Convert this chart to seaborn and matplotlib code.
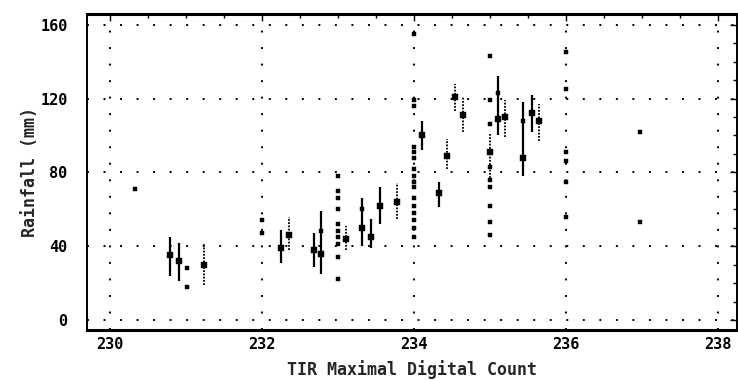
import matplotlib
matplotlib.use("Agg")
import matplotlib.pyplot as plt
import seaborn as sns
import pandas as pd
from matplotlib.ticker import MultipleLocator

# ---- data ----
# points with error bars: count, mean rainfall, lower, upper
bar_x    = [230.79, 230.91, 231.24, 232.25, 232.36, 232.69, 232.78, 233.11, 233.32, 233.43,
            233.55, 233.78, 234.10, 234.33, 234.43, 234.54, 234.65, 235.00, 235.10, 235.20,
            235.43, 235.55, 235.65]
bar_y    = [35, 32, 30, 39, 46, 38, 36, 44, 50, 45,
            62, 64, 100, 69, 89, 121, 111, 91, 109, 110,
            88, 112, 108]
bar_lo   = [24, 21, 19, 31, 38, 29, 25, 38, 40, 39,
            52, 55, 92, 61, 82, 113, 102, 77, 100, 99,
            78, 102, 97]
bar_hi   = [45, 42, 41, 49, 56, 47, 59, 51, 66, 55,
            72, 74, 108, 75, 98, 128, 121, 101, 132, 119,
            118, 122, 117]
bar_dotted = [False, False, True, False, True, False, False, True, False, False,
              False, True, False, False, True, True, True, True, False, True,
              False, False, True]

# individual observations
pt_x = ([231.02] * 2 + [232.00] * 2 + [232.78] + [233.00] * 10 + [233.32] +
        [234.00] * 16 + [235.00] * 9 + [235.10] + [235.43] + [236.00] * 6 +
        [236.98] * 2 + [230.33])
pt_y = ([28, 18] + [54, 47] + [48] + [78, 70, 66, 60, 52, 48, 45, 41, 34, 22] + [60] +
        [155, 119, 116, 94, 91, 88, 82, 78, 75, 72, 66, 62, 58, 54, 50, 45] +
        [143, 119, 106, 83, 76, 72, 62, 53, 46] + [123] + [108] +
        [145, 125, 91, 86, 75, 56] + [102, 53] + [71])

x_ticks = [230, 232, 234, 236, 238]
x_tick_labels = ["230", "232", "234", "236", "238"]
y_ticks = [0, 40, 80, 120, 160]
y_tick_labels = ["0", "40", "80", "120", "160"]

sns.set_theme(style="white")
plt.rcParams['font.family'] = ['DejaVu Sans Mono', 'DejaVu Sans']
plt.rcParams['font.weight'] = 'bold'

fig = plt.figure(figsize=(7.38, 3.80), dpi=100)
ax = fig.add_axes([87 / 738, 1 - 330 / 380, (737 - 87) / 738, (330 - 14) / 380])

ax.set_xlim(229.70, 238.25)
ax.set_ylim(-5.4, 165.8)

# dotted grid
for xv in x_ticks:
    ax.axvline(xv, color="black", lw=1.4, dashes=(1, 7.5), zorder=1)
for yv in y_ticks:
    ax.axhline(yv, color="black", lw=1.4, dashes=(1, 7.5), zorder=1)

bars = pd.DataFrame({"x": bar_x, "y": bar_y, "lo": bar_lo, "hi": bar_hi, "dotted": bar_dotted})
solid = bars[~bars["dotted"]]
dott = bars[bars["dotted"]]
ax.vlines(solid["x"], solid["lo"], solid["hi"], color="black", lw=1.6, zorder=3)
ax.vlines(dott["x"], dott["lo"], dott["hi"], color="black", lw=1.3,
          linestyles=[(0, (1, 0.8))], zorder=3)

sns.scatterplot(data=bars, x="x", y="y", ax=ax, marker="s", s=13,
                color="black", edgecolor="black", linewidth=0.3, zorder=4, legend=False)

pts = pd.DataFrame({"x": pt_x, "y": pt_y})
sns.scatterplot(data=pts, x="x", y="y", ax=ax, marker="s", s=10,
                color="black", edgecolor="black", linewidth=0.3, zorder=4, legend=False)

ax.set_xticks(x_ticks)
ax.set_xticklabels(x_tick_labels)
ax.set_yticks(y_ticks)
ax.set_yticklabels(y_tick_labels)
ax.xaxis.set_minor_locator(MultipleLocator(0.5))
ax.yaxis.set_minor_locator(MultipleLocator(10))
ax.tick_params(axis="both", which="both", direction="in", top=True, right=True,
               colors="black", labelsize=11, width=1.0)
ax.tick_params(axis="both", which="major", length=5)
ax.tick_params(axis="both", which="minor", length=3)
ax.tick_params(axis="x", which="major", pad=5)
ax.tick_params(axis="y", which="major", pad=14)
for lab in ax.get_xticklabels() + ax.get_yticklabels():
    lab.set_fontweight("bold")

for side, lw in [("left", 1.4), ("right", 1.4), ("top", 2.2), ("bottom", 2.2)]:
    ax.spines[side].set_visible(True)
    ax.spines[side].set_color("black")
    ax.spines[side].set_linewidth(lw)

ax.set_xlabel("TIR Maximal Digital Count", fontsize=12, fontweight="bold", labelpad=6)
ax.set_ylabel("Rainfall (mm)", fontsize=12, fontweight="bold", labelpad=1)

fig.savefig("out.png", dpi=100)
